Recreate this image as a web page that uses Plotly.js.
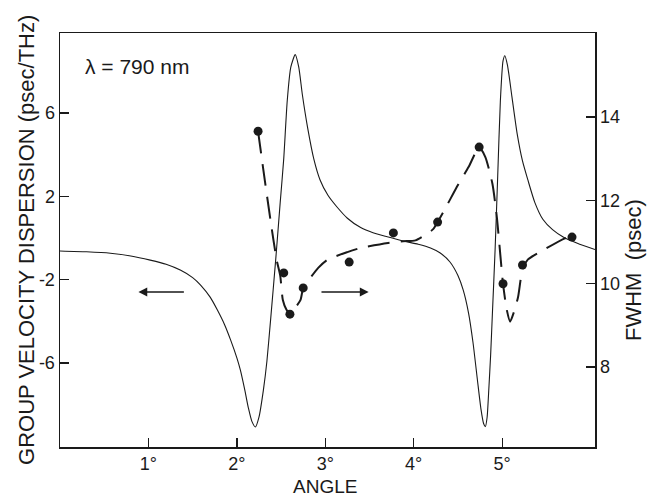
<!DOCTYPE html>
<html>
<head>
<meta charset="utf-8">
<script src="https://cdn.plot.ly/plotly-3.0.1.min.js"></script>
<style>html,body{margin:0;padding:0;background:#fff;}</style>
</head>
<body>
<div id="chart" style="width:649px;height:497px;"></div>
<script>
// Theoretical group velocity dispersion (left axis)
var gvdAngle = [0.00, 0.30, 0.57, 0.80, 1.02, 1.20, 1.36, 1.50, 1.59, 1.70, 1.78, 1.86, 1.93, 2.00, 2.04, 2.09, 2.13, 2.17, 2.21, 2.25, 2.30, 2.34, 2.38, 2.44, 2.49, 2.53, 2.57, 2.61, 2.66, 2.70, 2.74, 2.80, 2.87, 2.94, 3.03, 3.13, 3.25, 3.40, 3.54, 3.70, 3.88, 4.05, 4.19, 4.30, 4.41, 4.50, 4.56, 4.62, 4.67, 4.72, 4.76, 4.79, 4.81, 4.83, 4.85, 4.87, 4.89, 4.92, 4.95, 4.98, 5.01, 5.03, 5.06, 5.11, 5.17, 5.23, 5.29, 5.37, 5.46, 5.57, 5.69, 5.85, 6.05];
var gvdValue = [-0.62, -0.66, -0.73, -0.86, -1.06, -1.26, -1.54, -1.90, -2.26, -2.85, -3.46, -4.15, -4.90, -5.75, -6.34, -7.30, -8.15, -8.80, -9.07, -8.60, -7.30, -5.90, -4.00, -1.00, 1.70, 3.80, 6.60, 8.20, 8.80, 8.20, 6.90, 5.30, 3.80, 2.80, 2.05, 1.50, 0.95, 0.50, 0.25, 0.06, -0.14, -0.30, -0.48, -0.72, -1.15, -1.80, -2.50, -3.60, -5.00, -6.80, -8.20, -8.90, -9.05, -8.60, -7.20, -5.60, -3.60, -0.60, 3.00, 6.60, 8.50, 8.75, 8.30, 6.80, 5.00, 3.70, 2.80, 1.70, 0.90, 0.40, 0.05, -0.25, -0.55];

// Measured pulse widths (right axis)
var fwhmAngle = [2.24, 2.53, 2.60, 2.75, 3.27, 3.77, 4.27, 4.74, 5.01, 5.23, 5.79];
var fwhmValue = [13.66, 10.26, 9.27, 9.90, 10.52, 11.22, 11.48, 13.28, 10.00, 10.45, 11.12];

// Hand-drawn dashed guide through the measurements (right axis)
var guideAngle = [2.24, 2.30, 2.38, 2.45, 2.49, 2.52, 2.56, 2.60, 2.66, 2.72, 2.75, 2.81, 2.92, 3.02, 3.25, 3.40, 3.71, 3.88, 4.02, 4.22, 4.27, 4.36, 4.50, 4.62, 4.74, 4.81, 4.89, 4.94, 5.01, 5.05, 5.09, 5.13, 5.18, 5.23, 5.29, 5.50, 5.71, 5.79];
var guideFwhm = [13.66, 12.73, 11.53, 10.57, 10.20, 9.61, 9.38, 9.27, 9.42, 9.61, 9.90, 10.08, 10.38, 10.57, 10.76, 10.86, 10.98, 11.02, 11.04, 11.31, 11.48, 11.82, 12.37, 12.80, 13.28, 13.04, 12.40, 11.60, 10.00, 9.40, 9.09, 9.30, 9.68, 10.35, 10.58, 10.85, 11.09, 11.13];

// Tick labels
var xTickVals = [1, 2, 3, 4, 5];
var xTickText = ['1°', '2°', '3°', '4°', '5°'];
var yTickVals = [6, 2, -2, -6];
var yTickText = ['6', '2', '-2', '-6'];
var y2TickVals = [8, 10, 12, 14];
var y2TickText = ['8', '10', '12', '14'];

var FONT = 'Liberation Sans, Arial, sans-serif';
var INK = '#1a1a1a';

var traces = [
  {
    x: gvdAngle, y: gvdValue, yaxis: 'y', mode: 'lines',
    line: {color: INK, width: 1.1, shape: 'spline', smoothing: 0.6},
    hoverinfo: 'skip'
  },
  {
    x: guideAngle, y: guideFwhm, yaxis: 'y2', mode: 'lines',
    line: {color: INK, width: 2, dash: '22px,11px', shape: 'spline', smoothing: 0.6},
    hoverinfo: 'skip'
  },
  {
    x: fwhmAngle, y: fwhmValue, yaxis: 'y2', mode: 'markers',
    marker: {color: INK, size: 9},
    hoverinfo: 'skip'
  }
];

var axisCommon = {
  showgrid: false, zeroline: false, showline: true,
  linecolor: INK, linewidth: 1.5,
  ticks: 'inside', ticklen: 9, tickwidth: 1.3, tickcolor: INK,
  tickfont: {family: FONT, size: 18, color: INK}
};

var layout = {
  width: 649, height: 497,
  margin: {l: 60, r: 54, t: 33, b: 50},
  paper_bgcolor: '#fff', plot_bgcolor: '#fff',
  showlegend: false,
  xaxis: Object.assign({}, axisCommon, {
    range: [0, 6.05], tickmode: 'array', tickvals: xTickVals, ticktext: xTickText,
    mirror: true
  }),
  yaxis: Object.assign({}, axisCommon, {
    range: [-10.03, 9.84], tickmode: 'array', tickvals: yTickVals, ticktext: yTickText
  }),
  yaxis2: Object.assign({}, axisCommon, {
    range: [6.08, 16.02], tickmode: 'array', tickvals: y2TickVals, ticktext: y2TickText,
    overlaying: 'y', side: 'right'
  }),
  annotations: [
    {xref: 'x', yref: 'y', axref: 'x', ayref: 'y', x: 0.887, y: -2.59, ax: 1.418, ay: -2.59,
     text: '', showarrow: true, arrowhead: 2, arrowsize: 1.1, arrowwidth: 1.6, arrowcolor: INK},
    {xref: 'x', yref: 'y', axref: 'x', ayref: 'y', x: 3.49, y: -2.59, ax: 2.94, ay: -2.59,
     text: '', showarrow: true, arrowhead: 2, arrowsize: 1.1, arrowwidth: 1.6, arrowcolor: INK},
    {xref: 'paper', yref: 'paper', x: 0.043, y: 0.918, xanchor: 'left', yanchor: 'middle',
     text: 'λ = 790 nm', showarrow: false, font: {family: FONT, size: 21, color: INK}},
    {xref: 'paper', yref: 'paper', x: -0.0636, y: 0.5, xanchor: 'center', yanchor: 'middle',
     text: 'GROUP VELOCITY DISPERSION (psec/THz)', textangle: -90, showarrow: false,
     font: {family: FONT, size: 22, color: INK}},
    {xref: 'paper', yref: 'paper', x: 1.0710, y: 0.4275, xanchor: 'center', yanchor: 'middle',
     text: 'FWHM\u00a0\u00a0(psec)', textangle: -90, showarrow: false,
     font: {family: FONT, size: 22, color: INK}},
    {xref: 'paper', yref: 'paper', x: 0.495, y: -0.0966, xanchor: 'center', yanchor: 'middle',
     text: 'ANGLE', showarrow: false, font: {family: FONT, size: 19, color: INK}}
  ]
};

Plotly.newPlot('chart', traces, layout, {displayModeBar: false, staticPlot: true});
</script>
</body>
</html>
